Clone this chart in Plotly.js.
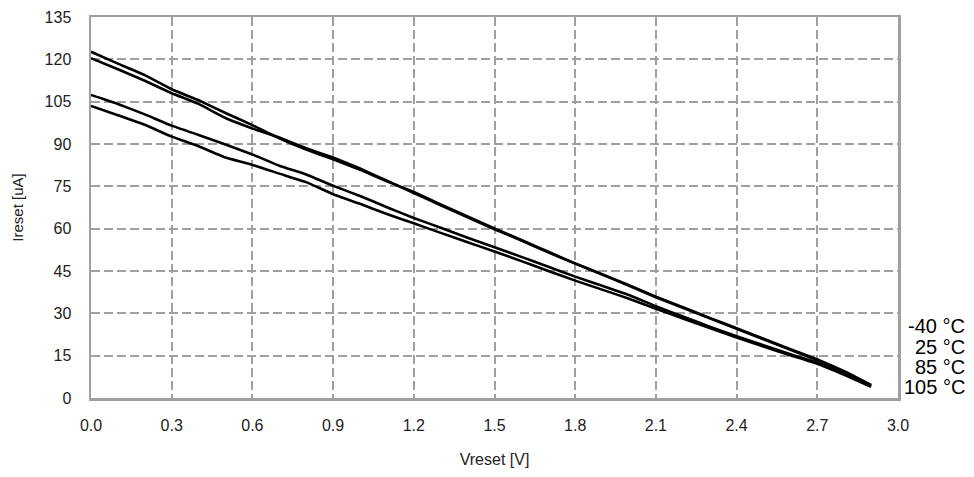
<!DOCTYPE html>
<html>
<head>
<meta charset="utf-8">
<script src="https://cdn.plot.ly/plotly-3.0.1.min.js"></script>
<style>html,body{margin:0;padding:0;background:#fff;}#chart{width:974px;height:477px;}</style>
</head>
<body>
<div id="chart"></div>
<script>
// Vreset [V]
const vreset = [0.0,0.1,0.2,0.3,0.4,0.5,0.6,0.7,0.8,0.9,1.0,1.1,1.2,1.3,1.4,1.5,1.6,1.7,1.8,1.9,2.0,2.1,2.2,2.3,2.4,2.5,2.6,2.7,2.8,2.9];
// Ireset [uA] per temperature
const iresetM40 = [122.7,118.5,114.4,109.4,105.5,101.0,96.7,92.0,88.0,84.6,80.9,76.8,73.0,68.6,64.3,60.1,56.0,51.8,47.7,43.9,40.0,35.9,32.2,28.4,24.7,21.0,17.3,13.7,9.5,4.6];
const ireset25  = [120.4,116.5,112.4,108.0,104.2,99.2,95.5,92.3,88.5,85.2,81.3,77.0,72.6,68.3,64.0,59.8,55.8,51.6,47.6,43.7,39.8,35.7,32.0,28.2,24.5,20.8,17.1,13.4,9.2,4.4];
const ireset85  = [107.4,104.2,100.5,96.5,93.2,89.8,86.3,82.3,79.2,75.2,71.6,67.6,63.8,60.3,56.8,53.4,50.0,46.5,43.0,39.8,36.5,32.5,28.9,25.3,21.9,18.7,15.5,12.5,8.5,4.2];
const ireset105 = [103.5,100.2,96.8,92.6,89.2,85.2,82.6,79.5,76.5,72.2,68.8,65.2,61.9,58.5,55.2,51.9,48.5,45.0,41.6,38.4,35.2,31.6,28.2,24.8,21.4,18.2,15.1,12.1,8.2,4.0];
const seriesNames = ['-40 °C','25 °C','85 °C','105 °C'];
const seriesData = [iresetM40, ireset25, ireset85, ireset105];
const xTicks = [0,0.3,0.6,0.9,1.2,1.5,1.8,2.1,2.4,2.7,3.0];
const yTicks = [0,15,30,45,60,75,90,105,120,135];

const traces = seriesData.map((ys,i)=>({
  x: vreset, y: ys, name: seriesNames[i], type:'scatter', mode:'lines',
  line:{color:'#000', width:2.6, shape:'spline', smoothing:0.3}, showlegend:false
}));

const labelY = [0.189,0.134,0.081,0.029];
const annotations = seriesNames.map((n,i)=>({
  text:n, xref:'paper', yref:'paper', x:1.0855, y:labelY[i], xanchor:'right', yanchor:'middle',
  showarrow:false, font:{family:'Liberation Sans, Arial, sans-serif', size:20, color:'#000'}
}));

const gridColor = '#a0a0a0';
const layout = {
  width:974, height:477,
  margin:{l:91, r:76, t:17, b:79, pad:0},
  paper_bgcolor:'#fff', plot_bgcolor:'#fff',
  font:{family:'Liberation Sans, Arial, sans-serif', size:16, color:'#222'},
  xaxis:{
    range:[0,3], tickvals:xTicks, ticktext:xTicks.map(v=>v.toFixed(1)),
    showgrid:true, gridcolor:gridColor, gridwidth:2, griddash:'9px,4px',
    showline:true, linecolor:gridColor, linewidth:2.5, mirror:true,
    ticks:'outside', ticklen:11, tickcolor:'rgba(0,0,0,0)', zeroline:false,
    title:{text:'Vreset [V]', font:{size:16, color:'#222'}, standoff:21}
  },
  yaxis:{
    range:[0,135], tickvals:yTicks, ticktext:yTicks.map(String),
    showgrid:true, gridcolor:gridColor, gridwidth:2, griddash:'9px,4px',
    showline:true, linecolor:gridColor, linewidth:2.5, mirror:true,
    ticks:'outside', ticklen:14, tickcolor:'rgba(0,0,0,0)', zeroline:false,
    title:{text:'Ireset [uA]', font:{size:15, color:'#222'}, standoff:18}
  },
  annotations: annotations
};
Plotly.newPlot('chart', traces, layout, {staticPlot:true, displayModeBar:false});
</script>
</body>
</html>
